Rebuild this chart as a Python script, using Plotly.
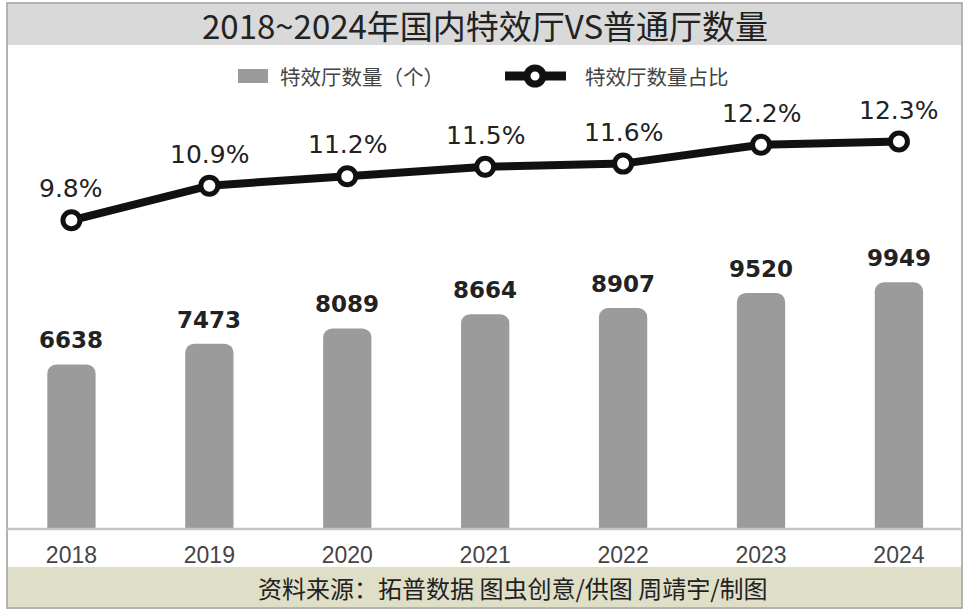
import plotly.graph_objects as go

years = ["2018", "2019", "2020", "2021", "2022", "2023", "2024"]
counts = [6638, 7473, 8089, 8664, 8907, 9520, 9949]
shares = [9.8, 10.9, 11.2, 11.5, 11.6, 12.2, 12.3]
share_labels = ["9.8%", "10.9%", "11.2%", "11.5%", "11.6%", "12.2%", "12.3%"]

W, H = 969, 614
PLOT_TOP, PLOT_BOTTOM = 100, 529
plot_h = PLOT_BOTTOM - PLOT_TOP
y1_max = plot_h / 0.0248
y2_max = plot_h / 31.5

def px(x):
    return x / W

def py(y):
    # pixel y (from top of figure) -> paper y (relative to plot area)
    return (PLOT_BOTTOM - y) / plot_h

fig = go.Figure()

fig.add_trace(go.Bar(
    x=years, y=counts, name="特效厅数量（个）",
    marker=dict(color="#9b9b9b", cornerradius=9, line=dict(width=0)),
    width=0.35, showlegend=False, hoverinfo="skip",
))

fig.add_trace(go.Scatter(
    x=years, y=shares, yaxis="y2", name="特效厅数量占比",
    mode="lines+markers",
    line=dict(color="#111111", width=8),
    marker=dict(symbol="circle", size=17, color="white",
                line=dict(color="#111111", width=5)),
    showlegend=False, hoverinfo="skip",
))

annotations = []
for i, c in enumerate(counts):
    annotations.append(dict(
        x=i, y=c, xref="x", yref="y", text=str(c), showarrow=False,
        yanchor="bottom", yshift=9,
        font=dict(family="DejaVu Sans", size=23, color="#222222", weight="bold"),
    ))
for i, (s, lab) in enumerate(zip(shares, share_labels)):
    annotations.append(dict(
        x=i, y=s, xref="x", yref="y2", text=lab, showarrow=False,
        yanchor="bottom", yshift=15,
        font=dict(family="DejaVu Sans", size=25, color="#222222"),
    ))

# title
annotations.append(dict(
    x=px(485), y=py(25), xref="paper", yref="paper", text="2018~2024年国内特效厅VS普通厅数量",
    showarrow=False, xanchor="center", yanchor="middle",
    font=dict(family="Noto Sans CJK SC", size=33, color="#222222"),
))
# footer
annotations.append(dict(
    x=px(513), y=py(587), xref="paper", yref="paper", text="资料来源：拓普数据 图虫创意/供图 周靖宇/制图",
    showarrow=False, xanchor="center", yanchor="middle",
    font=dict(family="Noto Sans CJK SC", size=24, color="#222222"),
))
# legend texts
annotations.append(dict(
    x=px(278), y=py(76), xref="paper", yref="paper", text="特效厅数量（个）",
    showarrow=False, xanchor="left", yanchor="middle",
    font=dict(family="Noto Sans CJK SC", size=20.5, color="#444444"),
))
annotations.append(dict(
    x=px(583), y=py(76), xref="paper", yref="paper", text="特效厅数量占比",
    showarrow=False, xanchor="left", yanchor="middle",
    font=dict(family="Noto Sans CJK SC", size=20.5, color="#444444"),
))

shapes = [
    dict(type="rect", xref="paper", yref="paper", x0=px(8), x1=px(961), y0=py(45), y1=py(4),
         fillcolor="#d9d9d9", line=dict(width=0), layer="below"),
    dict(type="rect", xref="paper", yref="paper", x0=px(8), x1=px(961), y0=py(607), y1=py(567),
         fillcolor="#dfdfc8", line=dict(width=0), layer="below"),
    dict(type="rect", xref="paper", yref="paper", x0=px(7), x1=px(962), y0=py(608), y1=py(3),
         fillcolor="rgba(0,0,0,0)", line=dict(color="#9a9a9a", width=1.5)),
    dict(type="line", xref="paper", yref="paper", x0=px(7), x1=px(962), y0=py(529), y1=py(529),
         line=dict(color="#c4c4c4", width=2.5)),
    dict(type="rect", xref="paper", yref="paper", x0=px(238), x1=px(268), y0=py(83), y1=py(69),
         fillcolor="#9b9b9b", line=dict(width=0)),
    dict(type="line", xref="paper", yref="paper", x0=px(505), x1=px(566), y0=py(76), y1=py(76),
         line=dict(color="#111111", width=9)),
    dict(type="circle", xref="paper", yref="paper", x0=px(527), x1=px(543), y0=py(84), y1=py(68),
         fillcolor="white", line=dict(color="#111111", width=7)),
]

fig.update_layout(
    width=W, height=H,
    margin=dict(l=0, r=0, t=PLOT_TOP, b=H - PLOT_BOTTOM, pad=0),
    paper_bgcolor="white", plot_bgcolor="white",
    xaxis=dict(type="category", range=[-0.518, 6.508], showgrid=False, zeroline=False,
               showline=False, ticks="", ticklabelstandoff=10,
               tickfont=dict(family="Liberation Sans", size=23, color="#444444")),
    yaxis=dict(range=[0, y1_max], visible=False, showgrid=False, zeroline=False),
    yaxis2=dict(range=[0, y2_max], overlaying="y", visible=False, showgrid=False, zeroline=False),
    annotations=annotations, shapes=shapes,
    bargap=0.65,
)

fig.write_html("out.html", config={"displayModeBar": False},
               post_script="document.body.style.margin='0';")
